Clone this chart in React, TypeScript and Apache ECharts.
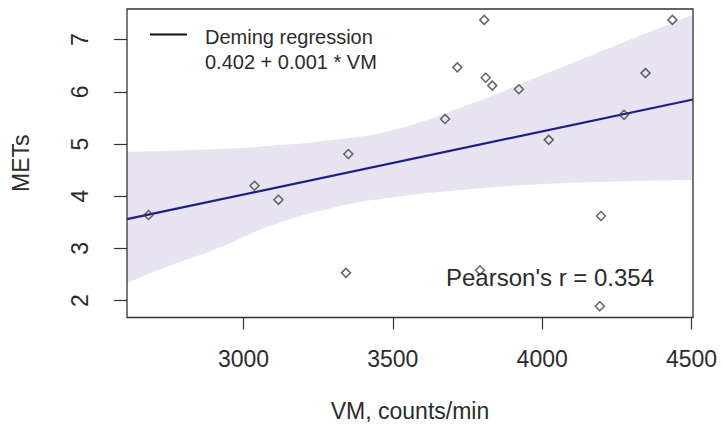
import React, { useEffect, useRef } from "react";
import * as echarts from "echarts";

// Observations: accelerometer vector magnitude vs. measured METs
const VM = [2682, 3037, 3117, 3343, 3351, 3675, 3716, 3792, 3806, 3811, 3833, 3922, 4022, 4193, 4197, 4274, 4346, 4436];
const METS = [3.64, 4.2, 3.93, 2.53, 4.81, 5.48, 6.47, 2.58, 7.38, 6.27, 6.12, 6.05, 5.08, 1.89, 3.62, 5.56, 6.36, 7.38];

// Deming regression fit
const INTERCEPT = 0.402;
const SLOPE = 0.00121;
const PEARSON_R = 0.354;

// Confidence band of the fit
const BAND_X = [2610, 2750, 2900, 3100, 3300, 3500, 3750, 4000, 4250, 4505];
const BAND_LOWER = [2.33, 2.66, 2.97, 3.45, 3.78, 3.98, 4.13, 4.23, 4.28, 4.31];
const BAND_UPPER = [4.85, 4.87, 4.9, 4.97, 5.08, 5.27, 5.75, 6.32, 6.9, 7.48];

// Axes
const X_MIN = 2610;
const X_MAX = 4505;
const Y_MIN = 1.674;
const Y_MAX = 7.589;
const X_TICKS = [3000, 3500, 4000, 4500];
const Y_TICKS = [2, 3, 4, 5, 6, 7];

const FONT = '"Liberation Sans", Arial, sans-serif';
const TEXT = "#2b2b2b";
const BAND = "#e7e3f1";

export default function App() {
  const ref = useRef<HTMLDivElement>(null);

  useEffect(() => {
    if (!ref.current) return;
    const chart = echarts.init(ref.current, null, { renderer: "svg" });

    const points = VM.map((v, i) => [v, METS[i]]);
    const fit = [X_MIN, X_MAX].map((x) => [x, INTERCEPT + SLOPE * x]);
    const upper = BAND_X.map((x, i) => [x, BAND_UPPER[i]]);
    const lower = BAND_X.map((x, i) => [x, BAND_LOWER[i]]);

    chart.setOption({
      animation: false,
      backgroundColor: "#ffffff",
      grid: {
        left: 127,
        top: 9,
        width: 566,
        height: 308.5,
        show: true,
        borderColor: "#333",
        borderWidth: 1.3,
        backgroundColor: "transparent",
        z: 10,
      },
      xAxis: {
        type: "value",
        min: X_MIN,
        max: X_MAX,
        splitLine: { show: false },
        axisLine: { show: false },
        axisTick: {
          show: true,
          length: 12,
          customValues: X_TICKS,
          lineStyle: { color: "#333", width: 1.2 },
        },
        axisLabel: {
          customValues: X_TICKS,
          formatter: (v: number) => String(v),
          margin: 30,
          fontSize: 23,
          color: TEXT,
          fontFamily: FONT,
        },
        name: "VM, counts/min",
        nameLocation: "middle",
        nameGap: 82,
        nameTextStyle: { fontSize: 23, color: TEXT, fontFamily: FONT },
      },
      yAxis: {
        type: "value",
        min: Y_MIN,
        max: Y_MAX,
        splitLine: { show: false },
        axisLine: { show: false },
        axisTick: {
          show: true,
          length: 13,
          customValues: Y_TICKS,
          lineStyle: { color: "#333", width: 1.2 },
        },
        axisLabel: {
          customValues: Y_TICKS,
          formatter: (v: number) => String(v),
          rotate: 90,
          margin: 36,
          fontSize: 23,
          color: TEXT,
          fontFamily: FONT,
        },
        name: "METs",
        nameLocation: "middle",
        nameRotate: 90,
        nameGap: 95,
        nameTextStyle: { fontSize: 23, color: TEXT, fontFamily: FONT },
      },
      series: [
        // upper edge of the band, filled down to the axis floor
        {
          type: "line",
          data: upper,
          smooth: true,
          symbol: "none",
          lineStyle: { opacity: 0 },
          areaStyle: { color: BAND, opacity: 1, origin: "start" },
          silent: true,
          z: 1,
        },
        // lower edge, blanking out everything below it
        {
          type: "line",
          data: lower,
          smooth: true,
          symbol: "none",
          lineStyle: { opacity: 0 },
          areaStyle: { color: "#ffffff", opacity: 1, origin: "start" },
          silent: true,
          z: 2,
        },
        {
          type: "line",
          data: fit,
          symbol: "none",
          lineStyle: { color: "#1d1f86", width: 2.2 },
          z: 3,
        },
        {
          type: "scatter",
          data: points,
          symbol: "diamond",
          symbolSize: 9,
          itemStyle: {
            color: "rgba(0,0,0,0)",
            borderColor: "#3d3d3d",
            borderWidth: 1.5,
          },
          z: 4,
        },
      ],
      graphic: [
        {
          type: "line",
          shape: { x1: 150, y1: 34.5, x2: 187, y2: 34.5 },
          style: { stroke: "#111", lineWidth: 2 },
          z: 20,
        },
        {
          type: "text",
          x: 205,
          y: 37,
          style: {
            text: "Deming regression",
            fontSize: 20,
            fontFamily: FONT,
            fill: TEXT,
            verticalAlign: "middle",
          },
          z: 20,
        },
        {
          type: "text",
          x: 205,
          y: 62,
          style: {
            text: `${INTERCEPT.toFixed(3)} + ${SLOPE.toFixed(3)} * VM`,
            fontSize: 20,
            fontFamily: FONT,
            fill: TEXT,
            verticalAlign: "middle",
          },
          z: 20,
        },
        {
          type: "text",
          x: 446,
          y: 277,
          style: {
            text: `Pearson's r = ${PEARSON_R.toFixed(3)}`,
            fontSize: 24,
            fontFamily: FONT,
            fill: TEXT,
            verticalAlign: "middle",
          },
          z: 20,
        },
      ],
    });

    return () => chart.dispose();
  }, []);

  return (
    <div
      ref={ref}
      style={{ position: "fixed", left: 0, top: 0, width: 723, height: 439 }}
    />
  );
}
